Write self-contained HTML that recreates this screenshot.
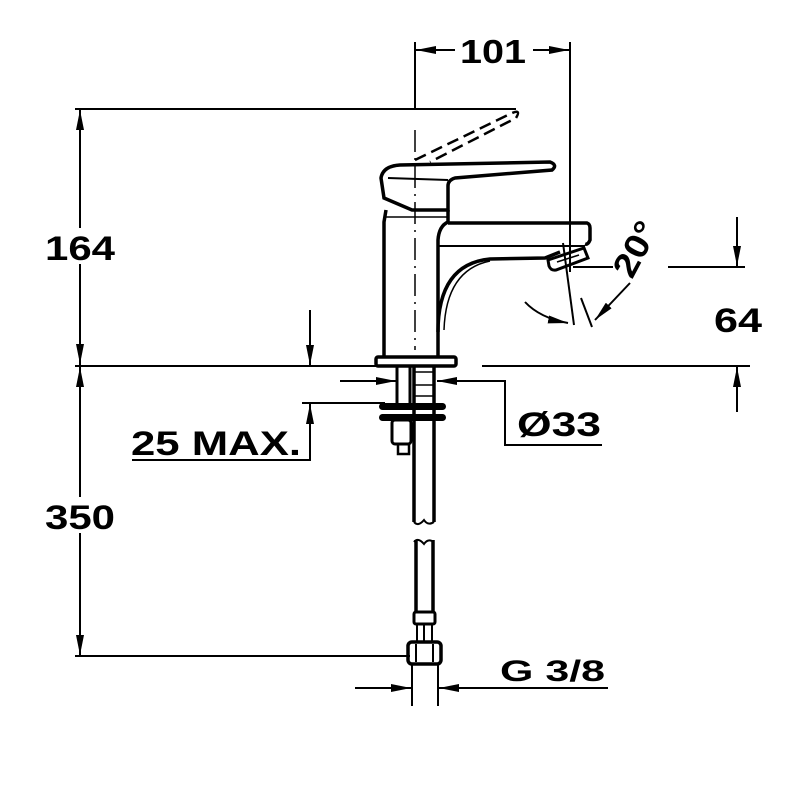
<!DOCTYPE html>
<html><head><style>body{margin:0;background:#fff}svg{display:block}text{font-family:"Liberation Sans",sans-serif;font-weight:bold;fill:#000}</style></head>
<body>
<svg width="800" height="800" viewBox="0 0 800 800" xmlns="http://www.w3.org/2000/svg">
<defs>
<marker id="a" viewBox="0 0 20 8" refX="20" refY="4" markerWidth="20" markerHeight="8" markerUnits="userSpaceOnUse" orient="auto"><path d="M0,0 L20,4 L0,8 Z" fill="#000"/></marker>
</defs>
<g stroke="#000" stroke-width="2" fill="none">
<line x1="75" y1="109" x2="516" y2="109"/>
<line x1="80" y1="365" x2="80" y2="110" marker-end="url(#a)"/>
<line x1="80" y1="110" x2="80" y2="364" marker-end="url(#a)"/>
<line x1="80" y1="367" x2="80" y2="655" marker-end="url(#a)"/>
<line x1="80" y1="655" x2="80" y2="367" marker-end="url(#a)"/>
<line x1="75" y1="366" x2="378" y2="366"/>
<line x1="482" y1="366" x2="750" y2="366"/>
<line x1="75" y1="656" x2="410" y2="656"/>
<line x1="415" y1="42" x2="415" y2="109"/>
<line x1="570" y1="42" x2="570" y2="272"/>
<line x1="455" y1="50" x2="416" y2="50" marker-end="url(#a)"/>
<line x1="533" y1="50" x2="569" y2="50" marker-end="url(#a)"/>
<line x1="415" y1="130" x2="415" y2="350" stroke-width="1.5" stroke-dasharray="22,6,2,6"/>
<path d="M415,160 L510,114 Q522,108 516,118 L430,162" stroke-dasharray="12,6" stroke-width="2.5"/>
<path d="M400,165 L550,162 Q558,165 552,170 L455,178 Q448,180 448,186 L448,210 L412,210 L384,198 L381,178 Q383,166 400,165 Z" stroke-width="3.5"/>
<path d="M388,178 L448,180" stroke-width="2"/>
<path d="M386,210 L384,222 L384,356" stroke-width="3.5"/>
<path d="M448,210 L448,222 Q439,226 438,240 L438,356" stroke-width="3.5"/>
<line x1="384" y1="217" x2="448" y2="217" stroke-width="1.5"/>
<path d="M448,223 L587,223 Q590,224 590,228 L590,240 Q588,245 585,244" stroke-width="3.5"/>
<line x1="438" y1="246" x2="585" y2="246" stroke-width="2"/>
<path d="M438,332 Q438,264 490,259 L545,258 L560,252" stroke-width="3.5"/>
<path d="M444,330 Q446,270 490,261" stroke-width="1.5"/>
<path d="M548,260 L584,248 L588,258 L556,270 Q551,271 549,266 Z" stroke-width="3"/>
<line x1="557" y1="262" x2="579" y2="255" stroke-width="1.5"/>
<rect x="376" y="357" width="80" height="9" rx="2" stroke-width="3.5"/>
<line x1="563" y1="243" x2="574" y2="325"/>
<line x1="581" y1="298" x2="592" y2="327"/>
<path d="M525,302 Q540,318 568,323" marker-end="url(#a)"/>
<line x1="630" y1="283" x2="595" y2="320" marker-end="url(#a)"/>
<line x1="573" y1="267" x2="613" y2="267"/>
<line x1="668" y1="267" x2="745" y2="267"/>
<line x1="737" y1="217" x2="737" y2="266" marker-end="url(#a)"/>
<line x1="737" y1="412" x2="737" y2="367" marker-end="url(#a)"/>
<line x1="310" y1="310" x2="310" y2="365" marker-end="url(#a)"/>
<line x1="310" y1="460" x2="310" y2="404" marker-end="url(#a)"/>
<line x1="302" y1="403" x2="385" y2="403"/>
<line x1="132" y1="460" x2="311" y2="460"/>
<line x1="340" y1="381" x2="396" y2="381" marker-end="url(#a)"/>
<line x1="505" y1="381" x2="437" y2="381" marker-end="url(#a)"/>
<line x1="505" y1="380" x2="505" y2="445"/>
<line x1="504" y1="445" x2="602" y2="445"/>
<path d="M397,366 L397,405 M410,366 L410,405" stroke-width="3"/>
<path d="M414,366 L414,522 M434,366 L434,522" stroke-width="3.5"/>
<path d="M414,372 L434,372 M414,385 L434,385 M414,396 L434,396" stroke-width="1.5"/>
<rect x="380" y="404" width="65" height="5" rx="2.5" fill="#000"/>
<rect x="380" y="415" width="65" height="5" rx="2.5" fill="#000"/>
<rect x="392" y="420" width="19" height="24" rx="3" stroke-width="3"/>
<rect x="398" y="444" width="11" height="10" stroke-width="2.5"/>
<path d="M414,522 Q418,527 424,520 Q428,526 434,522" stroke-width="2"/>
<path d="M414,542 Q418,537 424,544 Q428,538 434,542" stroke-width="2"/>
<path d="M416,540 L416,612 M433,540 L433,612" stroke-width="3.5"/>
<rect x="414" y="612" width="21" height="12" rx="2" stroke-width="3"/>
<path d="M417,624 L417,642 M432,624 L432,642 M424,624 L424,642" stroke-width="2"/>
<rect x="408" y="642" width="33" height="22" rx="4" stroke-width="3.5"/>
<path d="M416,644 L416,662 M433,644 L433,662" stroke-width="2"/>
<line x1="412" y1="664" x2="412" y2="706"/>
<line x1="438" y1="664" x2="438" y2="706"/>
<line x1="355" y1="688" x2="411" y2="688" marker-end="url(#a)"/>
<line x1="608" y1="688" x2="439" y2="688" marker-end="url(#a)"/>
</g>
<rect x="44" y="228" width="73" height="36" fill="#fff"/>
<rect x="44" y="497" width="73" height="36" fill="#fff"/>
<text x="460" y="63" font-size="33" textLength="66" lengthAdjust="spacingAndGlyphs">101</text>
<text x="45" y="260" font-size="34" textLength="70" lengthAdjust="spacingAndGlyphs">164</text>
<text x="45" y="529" font-size="34" textLength="70" lengthAdjust="spacingAndGlyphs">350</text>
<text x="714" y="332" font-size="34" textLength="48" lengthAdjust="spacingAndGlyphs">64</text>
<text x="131" y="455" font-size="34" textLength="170" lengthAdjust="spacingAndGlyphs">25 MAX.</text>
<text x="517" y="436" font-size="34" textLength="84" lengthAdjust="spacingAndGlyphs">Ø33</text>
<text x="500" y="681" font-size="30" textLength="105" lengthAdjust="spacingAndGlyphs">G 3/8</text>
<text transform="translate(632,280) rotate(-62)" font-size="34" textLength="58" lengthAdjust="spacingAndGlyphs">20°</text>
</svg>
</body></html>
